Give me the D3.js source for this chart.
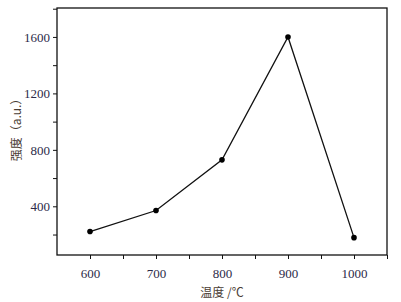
<!DOCTYPE html>
<html><head><meta charset="utf-8">
<script src="https://cdn.jsdelivr.net/npm/d3@7"></script>
<style>body{margin:0;background:#fff}svg{display:block}</style>
</head><body>
<script>
const temps = [600, 700, 800, 900, 1000];
const intensity = [221, 370, 729, 1600, 178];
const xTicks = [600, 700, 800, 900, 1000];
const yTicks = [400, 800, 1200, 1600];
const xLabel = "温度 /℃";
const yLabel = "强度（a.u.）";

const W = 401, H = 302;
const m = {l: 57, r: 14, t: 8, b: 47};
const svg = d3.select("body").append("svg").attr("width", W).attr("height", H);
const x = d3.scaleLinear().domain([550, 1050]).range([m.l, W - m.r]);
const y = d3.scaleLinear().domain([55, 1805]).range([H - m.b, m.t]);

const tickColor = "#2c2a48";
const serif = "Liberation Serif";

const xAx = svg.append("g").attr("transform", `translate(0,${H - m.b})`)
  .call(d3.axisBottom(x).tickValues(d3.range(600, 1051, 50)).tickSize(4)
    .tickFormat(d => xTicks.includes(d) ? d : ""));
const yAx = svg.append("g").attr("transform", `translate(${m.l},0)`)
  .call(d3.axisLeft(y).tickValues(d3.range(200, 1801, 200)).tickSize(4)
    .tickFormat(d => yTicks.includes(d) ? d : ""));
[xAx, yAx].forEach(g => {
  g.attr("font-family", serif).attr("font-size", 13);
  g.select(".domain").remove();
  g.selectAll("line").attr("stroke", "#111").attr("stroke-width", 1);
  g.selectAll("text").attr("fill", tickColor).attr("font-family", serif);
});
xAx.selectAll("text").attr("dy", "1.2em");

svg.append("rect").attr("x", m.l).attr("y", m.t)
  .attr("width", W - m.l - m.r).attr("height", H - m.t - m.b)
  .attr("fill", "none").attr("stroke", "#111").attr("stroke-width", 1.3);

const pts = temps.map((t, i) => [t, intensity[i]]);
svg.append("path").datum(pts)
  .attr("d", d3.line().x(d => x(d[0])).y(d => y(d[1])))
  .attr("fill", "none").attr("stroke", "#111").attr("stroke-width", 1.3);
svg.selectAll("circle.pt").data(pts).enter().append("circle")
  .attr("cx", d => x(d[0])).attr("cy", d => y(d[1])).attr("r", 2.8).attr("fill", "#000");

svg.append("text").attr("x", (m.l + W - m.r) / 2).attr("y", 297)
  .attr("text-anchor", "middle").attr("fill", "#4a3d35")
  .attr("font-family", "Noto Sans CJK SC").attr("font-size", 12)
  .text(xLabel);
svg.append("text").attr("transform", `translate(21,127) rotate(-90)`)
  .attr("text-anchor", "middle").attr("fill", "#4a3d35")
  .attr("font-family", "Noto Sans CJK SC").attr("font-size", 12)
  .text(yLabel);
</script>
</body></html>
